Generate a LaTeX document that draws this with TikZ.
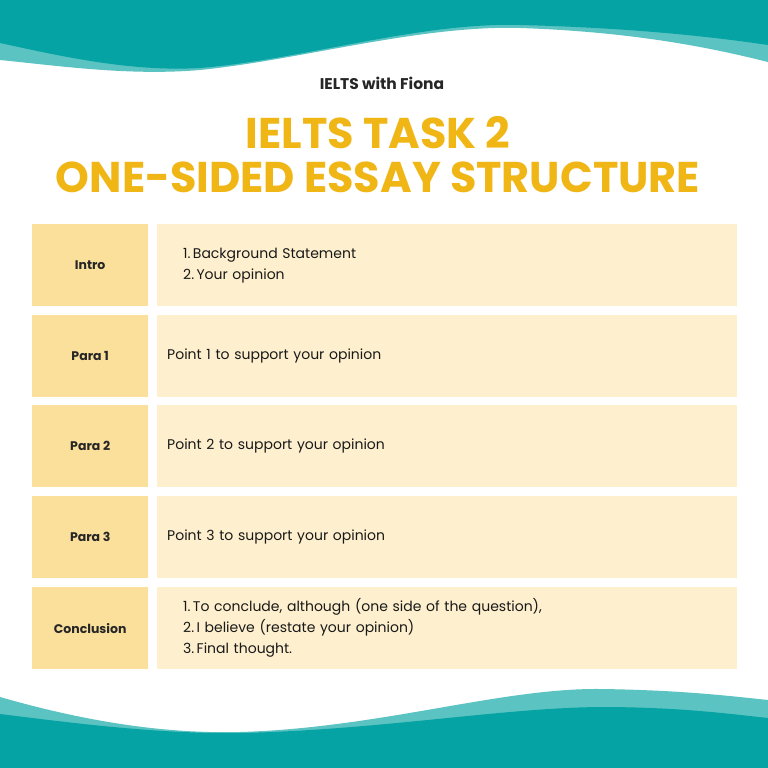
\documentclass[tikz,border=0pt]{standalone}
\usepackage{fontspec}
\setmainfont{Poppins}
\begin{document}
\begin{tikzpicture}[x=1pt,y=-1pt,
 lcell/.style={fill=lcol,draw=none,minimum width=116pt,minimum height=82pt,anchor=north west,font=\fontsize{12.5}{14}\selectfont\bfseries,text=black!85},
 rcell/.style={fill=rcol,draw=none,minimum width=580pt,minimum height=82pt,anchor=north west,font=\fontsize{14}{21}\selectfont,text=black!90,align=left,text width=560pt,inner sep=9pt}]
\definecolor{teal1}{HTML}{05A3A3}
\definecolor{teal2}{HTML}{5CC3C3}
\definecolor{lcol}{HTML}{FBE09C}
\definecolor{rcol}{HTML}{FEF0CE}
\definecolor{gold}{HTML}{F0B616}
\useasboundingbox (0,0) rectangle (768,768);
\fill[white] (0,0) rectangle (768,768);
% top wave
\fill[teal2] (0,0) -- (0,60) .. controls (60,66) and (130,76) .. (200,70) .. controls (300,60) and (420,25) .. (520,28) .. controls (640,32) and (720,50) .. (768,62) -- (768,0) -- cycle;
\fill[teal1] (0,0) -- (0,43) .. controls (60,56) and (130,72) .. (200,68) .. controls (300,60) and (420,22) .. (520,25) .. controls (640,28) and (720,38) .. (768,45) -- (768,0) -- cycle;
% bottom wave
\fill[teal2] (0,768) -- (0,697) .. controls (80,720) and (160,734) .. (240,732) .. controls (380,728) and (500,688) .. (600,689) .. controls (680,690) and (730,696) .. (768,700) -- (768,768) -- cycle;
\fill[teal1] (0,768) -- (0,714) .. controls (80,724) and (160,734) .. (240,733) .. controls (380,730) and (500,708) .. (600,707) .. controls (680,707) and (730,714) .. (768,718) -- (768,768) -- cycle;
\node[font=\fontsize{15.5}{18}\selectfont\bfseries,text=black!85] (brand) at (382,83) {IELTS with Fiona};
\node[font=\fontsize{43}{44}\selectfont\bfseries,text=gold,align=center] (title) at (378,155) {IELTS TASK 2\\ONE-SIDED ESSAY STRUCTURE};
\node[lcell] (l1) at (32,224) {Intro};
\node[rcell] (r1) at (157,224) {\hspace*{16pt}1.\,Background Statement\\\hspace*{16pt}2.\,Your opinion};
\node[lcell] (l2) at (32,315) {Para 1};
\node[rcell] (r2) at (157,315) {Point 1 to support your opinion};
\node[lcell] (l3) at (32,405) {Para 2};
\node[rcell] (r3) at (157,405) {Point 2 to support your opinion};
\node[lcell] (l4) at (32,496) {Para 3};
\node[rcell] (r4) at (157,496) {Point 3 to support your opinion};
\node[lcell] (l5) at (32,587) {Conclusion};
\node[rcell] (r5) at (157,587) {\hspace*{16pt}1.\,To conclude, although (one side of the question),\\\hspace*{16pt}2.\,I believe (restate your opinion)\\\hspace*{16pt}3.\,Final thought.};
\end{tikzpicture}
\end{document}
